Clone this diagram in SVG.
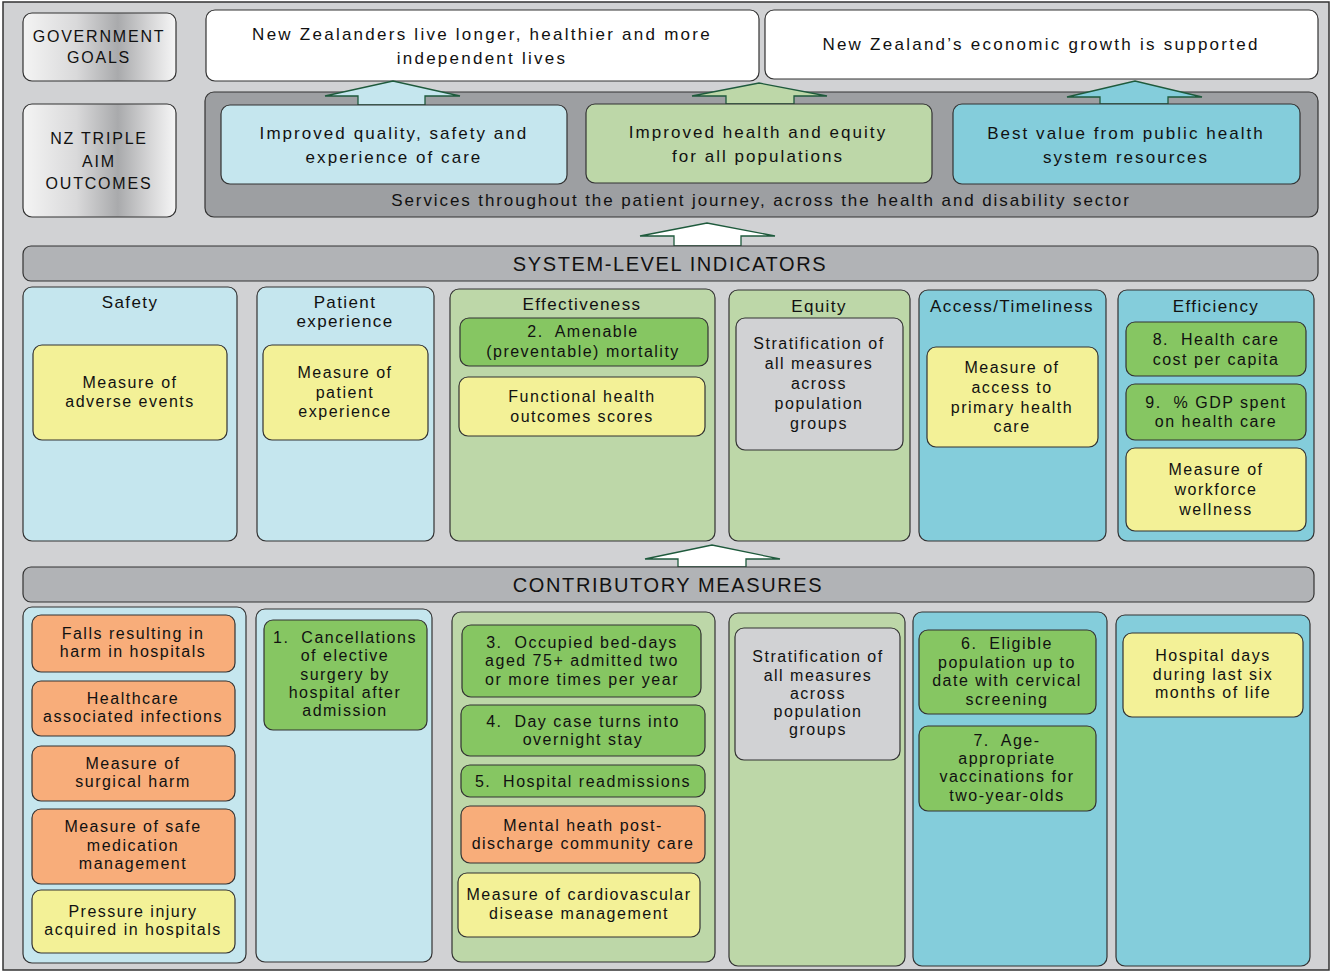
<svg xmlns="http://www.w3.org/2000/svg" width="1333" height="972" viewBox="0 0 1333 972">
<defs>
<linearGradient id="silver" x1="0" y1="0" x2="1" y2="0">
<stop offset="0" stop-color="#f4f4f4"/><stop offset="0.35" stop-color="#d9d9da"/><stop offset="0.62" stop-color="#a9aaac"/><stop offset="0.85" stop-color="#dadadb"/><stop offset="1" stop-color="#f6f6f6"/>
</linearGradient>
<style>
text{font-family:"Liberation Sans",Arial,sans-serif;fill:#111;text-anchor:middle;font-size:16px;letter-spacing:1.5px}
.b{stroke:#333;stroke-width:1.2}
.lb{fill:#c5e6ee}.gr{fill:#bdd7a8}.tb{fill:#84cddb}.yl{fill:#f3f197}.gn{fill:#86c662}.or{fill:#f8ad7a}.gy{fill:#d1d2d4}.wh{fill:#fff}.dk{fill:#9d9fa2}.bar{fill:#b1b3b6}
.hd{font-size:17px;letter-spacing:1.4px}
.cap{font-size:20px;letter-spacing:1.6px}
.lbl{letter-spacing:1.8px}
.top{font-size:17px;letter-spacing:2.25px}
.aim{font-size:17px;letter-spacing:2.05px}
.svc{font-size:17px;letter-spacing:1.9px}
.arr{stroke:#1e5a3c;stroke-width:1.3}
.tri{fill:#111}
</style>
</defs>
<rect x="3" y="2" width="1326" height="968" fill="#d1d2d4" stroke="#333" stroke-width="1.5"/>

<g id="gov-goals-label"><rect class="b" x="23" y="13" width="153" height="68" rx="9" fill="url(#silver)"/><text class="lbl" x="99" y="42">GOVERNMENT<tspan x="99" y="63">GOALS</tspan></text></g>
<g id="triple-aim-label"><rect class="b" x="23" y="104" width="153" height="113" rx="9" fill="url(#silver)"/><text class="lbl" x="99" y="144">NZ TRIPLE<tspan x="99" y="167">AIM</tspan><tspan x="99" y="189">OUTCOMES</tspan></text></g>

<g id="goal-1"><rect class="b wh" x="206" y="10" width="553" height="71" rx="9"/><text class="top" x="482" y="40">New Zealanders live longer, healthier and more<tspan x="482" y="64">independent lives</tspan></text></g>
<g id="goal-2"><rect class="b wh" x="765" y="10" width="553" height="69" rx="9"/><text class="top" x="1041" y="50">New Zealand’s economic growth is supported</text></g>

<g id="services-panel"><rect class="b dk" x="205" y="92" width="1113" height="125" rx="9"/><text class="svc" x="761" y="206">Services throughout the patient journey, across the health and disability sector</text></g>

<g id="connectors">
<polygon class="arr lb" points="358,105 358,96 325,96 393,81 460,96 425,96 425,105"/>
<polygon class="arr gr" points="726,104 726,96 692,96 759,83 827,96 794,96 794,104"/>
<polygon class="arr tb" points="1100,104 1100,97 1067,97 1135,81 1202,97 1168,97 1168,104"/>
<polygon class="arr wh" points="674,246 674,236 640,236 707,223 775,236 741,236 741,246"/>
<polygon class="arr wh" points="678,567 678,559 645,559 712,545 780,559 746,559 746,567"/>
<polygon class="tri" points="513,699 509.5,706 516.5,706"/>
<polygon class="tri" points="583,758 579.5,765 586.5,765"/>
</g>

<g id="aim-quality"><rect class="b lb" x="221" y="105" width="346" height="79" rx="9"/><text class="aim" x="394" y="139">Improved quality, safety and<tspan x="394" y="163">experience of care</tspan></text></g>
<g id="aim-health"><rect class="b gr" x="586" y="104" width="346" height="79" rx="9"/><text class="aim" x="758" y="138">Improved health and equity<tspan x="758" y="162">for all populations</tspan></text></g>
<g id="aim-value"><rect class="b tb" x="953" y="104" width="347" height="80" rx="9"/><text class="aim" x="1126" y="139">Best value from public health<tspan x="1126" y="163">system resources</tspan></text></g>

<g id="sli-bar"><rect class="b bar" x="23" y="246" width="1295" height="35" rx="8"/><text class="cap" x="670" y="271">SYSTEM-LEVEL INDICATORS</text></g>

<g id="sli-safety"><rect class="b lb" x="23" y="287" width="214" height="254" rx="9"/><text class="hd" x="130" y="308">Safety</text>
<rect class="b yl" x="33" y="345" width="194" height="95" rx="9"/><text x="130" y="388">Measure of<tspan x="130" y="407">adverse events</tspan></text></g>
<g id="sli-patient"><rect class="b lb" x="257" y="287" width="177" height="254" rx="9"/><text class="hd" x="345" y="308">Patient<tspan x="345" y="327">experience</tspan></text>
<rect class="b yl" x="263" y="345" width="165" height="95" rx="9"/><text x="345" y="378">Measure of<tspan x="345" y="398">patient</tspan><tspan x="345" y="417">experience</tspan></text></g>
<g id="sli-effectiveness"><rect class="b gr" x="450" y="289" width="265" height="252" rx="9"/><text class="hd" x="582" y="310">Effectiveness</text>
<rect class="b gn" x="460" y="318" width="248" height="48" rx="9"/><text x="583" y="337">2.&#160; Amenable<tspan x="583" y="357">(preventable) mortality</tspan></text>
<rect class="b yl" x="459" y="377" width="246" height="59" rx="9"/><text x="582" y="402">Functional health<tspan x="582" y="422">outcomes scores</tspan></text></g>
<g id="sli-equity"><rect class="b gr" x="729" y="290" width="181" height="251" rx="9"/><text class="hd" x="819" y="312">Equity</text>
<rect class="b gy" x="736" y="318" width="167" height="132" rx="9"/><text x="819" y="349">Stratification of<tspan x="819" y="369">all measures</tspan><tspan x="819" y="389">across</tspan><tspan x="819" y="409">population</tspan><tspan x="819" y="429">groups</tspan></text></g>
<g id="sli-access"><rect class="b tb" x="919" y="290" width="187" height="251" rx="9"/><text class="hd" x="1012" y="312">Access/Timeliness</text>
<rect class="b yl" x="927" y="347" width="171" height="100" rx="9"/><text x="1012" y="373">Measure of<tspan x="1012" y="393">access to</tspan><tspan x="1012" y="413">primary health</tspan><tspan x="1012" y="432">care</tspan></text></g>
<g id="sli-efficiency"><rect class="b tb" x="1118" y="290" width="196" height="251" rx="9"/><text class="hd" x="1216" y="312">Efficiency</text>
<rect class="b gn" x="1126" y="322" width="180" height="54" rx="9"/><text x="1216" y="345">8.&#160; Health care<tspan x="1216" y="365">cost per capita</tspan></text>
<rect class="b gn" x="1126" y="384" width="180" height="56" rx="9"/><text x="1216" y="408">9.&#160; % GDP spent<tspan x="1216" y="427">on health care</tspan></text>
<rect class="b yl" x="1126" y="448" width="180" height="83" rx="9"/><text x="1216" y="475">Measure of<tspan x="1216" y="495">workforce</tspan><tspan x="1216" y="515">wellness</tspan></text></g>

<g id="cm-bar"><rect class="b bar" x="23" y="567" width="1291" height="35" rx="8"/><text class="cap" x="668" y="592">CONTRIBUTORY MEASURES</text></g>

<g id="cm-safety"><rect class="b lb" x="23" y="607" width="223" height="356" rx="9"/>
<rect class="b or" x="32" y="615" width="203" height="57" rx="9"/><text x="133" y="639">Falls resulting in<tspan x="133" y="657">harm in hospitals</tspan></text>
<rect class="b or" x="32" y="681" width="203" height="55" rx="9"/><text x="133" y="704">Healthcare<tspan x="133" y="722">associated infections</tspan></text>
<rect class="b or" x="32" y="746" width="203" height="55" rx="9"/><text x="133" y="769">Measure of<tspan x="133" y="787">surgical harm</tspan></text>
<rect class="b or" x="32" y="809" width="203" height="75" rx="9"/><text x="133" y="832">Measure of safe<tspan x="133" y="851">medication</tspan><tspan x="133" y="869">management</tspan></text>
<rect class="b yl" x="32" y="890" width="203" height="63" rx="9"/><text x="133" y="917">Pressure injury<tspan x="133" y="935">acquired in hospitals</tspan></text></g>
<g id="cm-patient"><rect class="b lb" x="256" y="609" width="176" height="353" rx="9"/>
<rect class="b gn" x="264" y="620" width="163" height="110" rx="9"/><text x="345" y="643">1.&#160; Cancellations<tspan x="345" y="661">of elective</tspan><tspan x="345" y="680">surgery by</tspan><tspan x="345" y="698">hospital after</tspan><tspan x="345" y="716">admission</tspan></text></g>
<g id="cm-effectiveness"><rect class="b gr" x="452" y="612" width="263" height="350" rx="9"/>
<rect class="b gn" x="462" y="625" width="239" height="72" rx="9"/><text x="582" y="648">3.&#160; Occupied bed-days<tspan x="582" y="666">aged 75+ admitted two</tspan><tspan x="582" y="685">or more times per year</tspan></text>
<rect class="b gn" x="461" y="705" width="244" height="51" rx="9"/><text x="583" y="727">4.&#160; Day case turns into<tspan x="583" y="745">overnight stay</tspan></text>
<rect class="b gn" x="461" y="765" width="244" height="32" rx="9"/><text x="583" y="787">5.&#160; Hospital readmissions</text>
<rect class="b or" x="461" y="806" width="244" height="57" rx="9"/><text x="583" y="831">Mental heath post-<tspan x="583" y="849">discharge community care</tspan></text>
<rect class="b yl" x="458" y="873" width="242" height="64" rx="9"/><text x="579" y="900">Measure of cardiovascular<tspan x="579" y="919">disease management</tspan></text></g>
<g id="cm-equity"><rect class="b gr" x="729" y="613" width="176" height="353" rx="9"/>
<rect class="b gy" x="735" y="628" width="165" height="132" rx="9"/><text x="818" y="662">Stratification of<tspan x="818" y="681">all measures</tspan><tspan x="818" y="699">across</tspan><tspan x="818" y="717">population</tspan><tspan x="818" y="735">groups</tspan></text></g>
<g id="cm-access"><rect class="b tb" x="913" y="612" width="194" height="354" rx="9"/>
<rect class="b gn" x="919" y="630" width="177" height="84" rx="9"/><text x="1007" y="649">6.&#160; Eligible<tspan x="1007" y="668">population up to</tspan><tspan x="1007" y="686">date with cervical</tspan><tspan x="1007" y="705">screening</tspan></text>
<rect class="b gn" x="919" y="726" width="177" height="85" rx="9"/><text x="1007" y="746">7.&#160; Age-<tspan x="1007" y="764">appropriate</tspan><tspan x="1007" y="782">vaccinations for</tspan><tspan x="1007" y="801">two-year-olds</tspan></text></g>
<g id="cm-efficiency"><rect class="b tb" x="1116" y="615" width="194" height="351" rx="9"/>
<rect class="b yl" x="1123" y="633" width="180" height="84" rx="9"/><text x="1213" y="661">Hospital days<tspan x="1213" y="680">during last six</tspan><tspan x="1213" y="698">months of life</tspan></text></g>
</svg>
